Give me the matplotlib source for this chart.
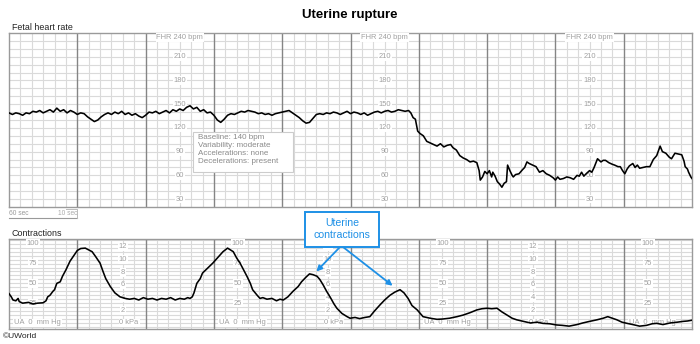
import numpy as np
import matplotlib
matplotlib.use("Agg")
import matplotlib.pyplot as plt
from matplotlib.patches import Rectangle

plt.rcParams['font.family'] = ['Liberation Sans', 'DejaVu Sans']

# ---------------- data ----------------
title = "Uterine rupture"
fhr_t = [0, 3, 6, 9, 12, 15, 18, 21, 24, 27, 30, 33, 36, 39, 42, 45, 48, 51, 54, 57,
         60, 63, 66, 69, 72, 75, 78, 81, 84, 87, 90, 93, 96, 99, 102, 105, 108, 111, 114, 117,
         120, 123, 126, 129, 132, 135, 138, 141, 144, 147, 150, 153, 156, 159, 162, 165, 168, 171, 174, 177,
         180, 183, 186, 189, 192, 195, 198, 201, 204, 207, 210, 213, 216, 219, 222, 225, 228, 231, 234, 237,
         240, 243, 246, 249, 252, 255, 258, 261, 264, 267, 270, 273, 276, 279, 282, 285, 288, 291, 294, 297,
         300, 303, 306, 309, 312, 315, 318, 321, 324, 327, 330, 333, 336, 339, 342, 345, 348, 351, 353, 355,
         357, 359, 361, 364, 367, 370, 373, 376, 379, 382, 385, 388, 390, 393, 396, 399, 402, 405, 408, 411,
         413, 414, 416, 418, 420, 422, 424, 425, 427, 429, 431, 433, 435, 437, 438, 440, 442, 443, 445, 448,
         451, 453, 455, 457, 460, 463, 466, 469, 472, 475, 478, 480, 482, 484, 487, 490, 493, 496, 499, 501,
         503, 505, 507, 510, 512, 514, 517, 520, 522, 524, 527, 530, 532, 535, 537, 539, 541, 543, 545, 548,
         550, 552, 554, 557, 560, 563, 566, 569, 572, 574, 577, 580, 582, 585, 588, 591, 593, 594, 596, 597,
         599, 600]
fhr_bpm = [139, 137, 139, 138, 136, 139, 138, 141, 140, 142, 139, 141, 143, 140, 145, 141, 143, 139, 142, 140,
           137, 139, 138, 134, 131, 128, 130, 134, 137, 139, 137, 140, 138, 141, 137, 139, 136, 138, 135, 133,
           136, 140, 139, 141, 138, 140, 142, 139, 143, 141, 144, 142, 146, 148, 144, 146, 141, 143, 139, 140,
           136, 130, 127, 131, 136, 138, 137, 139, 141, 140, 142, 141, 140, 138, 139, 137, 138, 136, 138, 139,
           140, 141, 142, 139, 136, 133, 129, 126, 127, 132, 137, 138, 137, 139, 138, 140, 139, 137, 139, 141,
           138, 140, 139, 137, 139, 136, 138, 140, 141, 139, 141, 142, 140, 141, 143, 142, 141, 142, 139, 133,
           131, 116, 113, 110, 103, 101, 99, 97, 100, 96, 98, 99, 95, 92, 85, 82, 80, 77, 78, 76,
           66, 54, 58, 65, 62, 66, 58, 64, 59, 52, 49, 45, 50, 52, 73, 66, 60, 58, 61, 62,
           67, 70, 77, 75, 73, 71, 64, 66, 62, 60, 57, 54, 58, 55, 56, 58, 57, 55, 60, 59,
           64, 59, 62, 66, 64, 70, 81, 77, 79, 79, 76, 74, 73, 71, 71, 66, 62, 68, 72, 75,
           70, 73, 69, 70, 71, 71, 80, 85, 97, 90, 88, 83, 81, 88, 87, 86, 78, 71, 68, 64,
           58, 56]

uc_t = [0, 2, 3.5, 6, 8, 9, 12, 17, 21, 25, 30, 32.5, 34, 36, 38.6, 40, 42, 45, 47, 50,
        53.6, 56, 60, 63, 67, 69, 73, 76, 80, 82.6, 85, 89, 93, 97.5, 102, 106, 110, 114, 118, 122,
        126, 130, 134, 138, 142, 146, 150, 154, 157, 159, 161, 162.5, 165, 168, 170, 175, 179, 183.6, 188, 192,
        197, 200, 203, 206.5, 209, 212, 214, 218, 220.5, 223, 226.6, 231, 235, 238, 241, 245, 249.5, 254, 257, 261,
        264, 267, 270.6, 273, 276, 279, 282, 285.5, 288, 292.5, 297, 299.6, 304, 308, 312.7, 317, 321, 326, 330, 334.7,
        339, 343.5, 347, 350.6, 354, 358.6, 363.7, 370, 376, 381, 387, 393.6, 399, 405, 411, 415.5, 420, 424, 428.7, 433,
        437.5, 442, 446, 452, 458, 464, 469, 475, 481, 486, 492, 499, 504, 510, 516.5, 522, 526, 530, 534, 538.5,
        543, 548, 554, 560, 565, 569, 574.5, 580.7, 587, 592, 596, 600]
uc_mmhg = [37, 33, 29, 28, 31, 27, 25, 26, 24, 25, 25.5, 28, 33, 35, 40, 42, 50, 52, 59, 67,
           78, 83, 91.5, 94, 94.5, 93, 90, 84, 75.5, 65, 56, 46, 38, 33, 31, 30, 31, 29, 32, 30,
           31, 29, 31, 30, 32, 29, 31, 30, 32, 31, 33, 38, 50, 56, 63, 70, 75.5, 83, 90, 94.5,
           90, 82, 75.5, 66, 59, 50, 42, 35, 31, 32, 30, 31, 28, 30, 29, 33, 40, 46, 52, 58,
           62, 61, 59, 55, 48, 40, 33, 24, 18.6, 12, 8, 6, 7, 5.5, 7, 8, 15, 23, 29, 35,
           39, 42, 38, 31, 22, 16.5, 8, 6, 4.6, 5, 6, 8, 10, 13, 16.5, 18, 18.6, 18, 18.6, 14,
           10, 6, 4, 2, 0, 1, -0.5, -1, -2.5, -3, -4, -2, 0, 2, 4, 6, 8, 6, 4, 1,
           -0.5, -2, -4, -3, -1, -0.5, -2, 0, 1, 2, 2.5, 3.5]

fhr_labels = [210, 180, 150, 120, 90, 60, 30]
fhr_label_t = [150, 330, 510]
uc_labels = [100, 75, 50, 25]
uc_label_t = [21, 201, 381, 561]
kpa_labels = [12, 10, 8, 6, 4, 2]
kpa_label_t = [100, 280, 460]
info_lines = ["Baseline: 140 bpm", "Variability: moderate",
              "Accelerations: none", "Decelerations: present"]
callout = "Uterine\ncontractions"
arrow_tips = [(270, 65), (337, 47)]

# ---------------- figure ----------------
W, H = 700, 344
fig = plt.figure(figsize=(W / 100, H / 100), dpi=100)

def fx(x):
    return x / W

def fy(y):
    return 1 - y / H

x0, x1 = 9, 692
ax_f = fig.add_axes([fx(x0), fy(207), fx(x1) - fx(x0), fy(33) - fy(207)])
ax_u = fig.add_axes([fx(x0), fy(329), fx(x1) - fx(x0), fy(239) - fy(329)])

minor_c = '#dadada'
major_c = '#858585'
lab_c = '#a0a0a0'

def grid(ax, hlines):
    for t in range(0, 601, 10):
        if t % 60 == 0:
            continue
        ax.axvline(t, color=minor_c, lw=0.8, zorder=1)
    for v in hlines:
        ax.axhline(v, color=minor_c, lw=0.8, zorder=1)
    for t in range(60, 600, 60):
        ax.axvline(t, color=major_c, lw=1.0, zorder=1.5)
    ax.set_xlim(0, 600)
    ax.set_xticks([])
    ax.set_yticks([])
    for s in ax.spines.values():
        s.set_color('#9a9a9a')
        s.set_linewidth(1.0)

ax_f.set_ylim(20, 240)
grid(ax_f, range(30, 240, 10))
ax_u.set_ylim(-7.6, 106)
grid(ax_u, range(-5, 106, 5))

lbl_bbox = dict(facecolor='white', edgecolor='none', pad=0.6)
for t in fhr_label_t:
    ax_f.text(t, 234, "FHR 240 bpm", ha='center', va='center', fontsize=5.4,
              color=lab_c, bbox=lbl_bbox, zorder=3)
    for v in fhr_labels:
        ax_f.text(t, v, str(v), ha='center', va='center', fontsize=5.4,
                  color=lab_c, bbox=lbl_bbox, zorder=3)

for t in uc_label_t:
    for v in uc_labels:
        ax_u.text(t, v, str(v), ha='center', va='center', fontsize=5.4,
                  color=lab_c, bbox=lbl_bbox, zorder=3)
    ax_u.text(t + 4, 0, "UA  0  mm Hg", ha='center', va='center', fontsize=5.4,
              color=lab_c, bbox=lbl_bbox, zorder=3)
for t in kpa_label_t:
    for v in kpa_labels:
        ax_u.text(t, v * 8, str(v), ha='center', va='center', fontsize=5.4,
                  color=lab_c, bbox=lbl_bbox, zorder=3)
    ax_u.text(t + 5.5, 0, "0 kPa", ha='center', va='center', fontsize=5.4,
              color=lab_c, bbox=lbl_bbox, zorder=3)

ax_f.plot(fhr_t, fhr_bpm, color='black', lw=1.15, zorder=4)
ax_u.plot(uc_t, uc_mmhg, color='black', lw=1.15, zorder=4)

# info box
fig.patches.append(Rectangle((fx(193), fy(172)), fx(293) - fx(193), fy(132) - fy(172),
                             transform=fig.transFigure, facecolor='white',
                             edgecolor='#cccccc', lw=0.8, zorder=5))
fig.text(fx(198), fy(134.5), "\n".join(info_lines), ha='left', va='top',
         fontsize=5.8, color='#8a8a8a', linespacing=1.18, zorder=6)

# titles
fig.text(0.5, fy(15), title, ha='center', va='center', fontsize=9.5,
         fontweight='bold', color='black')
fig.text(fx(12), fy(28), "Fetal heart rate", ha='left', va='center', fontsize=6.4,
         color='#222222')
fig.text(fx(12), fy(233), "Contractions", ha='left', va='center', fontsize=6.4,
         color='#222222')
fig.text(fx(3), fy(337), "\u00a9UWorld", ha='left', va='center', fontsize=6,
         color='#222222')

# scale bar
fig.text(fx(9), fy(213.5), "60 sec", ha='left', va='center', fontsize=4.8, color='#999999')
fig.text(fx(77), fy(213.5), "10 sec", ha='right', va='center', fontsize=4.8, color='#aaaaaa')
fig.add_artist(plt.Line2D([fx(9), fx(77)], [fy(217.5), fy(217.5)], color='#999999', lw=0.8))
fig.add_artist(plt.Line2D([fx(66), fx(77), fx(77)], [fy(209), fy(209), fy(217.5)],
                          color='#bbbbbb', lw=0.7))

# callout
blue = '#1e90e6'
fig.patches.append(Rectangle((fx(305), fy(246.5)), fx(379) - fx(305), fy(212) - fy(246.5),
                             transform=fig.transFigure, facecolor='white',
                             edgecolor=blue, lw=1.4, zorder=7))
fig.text(fx(342), fy(229.5), callout, ha='center', va='center', fontsize=7.6,
         color=blue, linespacing=1.25, zorder=8)
starts = [(fx(340), fy(247)), (fx(343), fy(247))]
for (tx, ty), (sx, sy) in zip(arrow_tips, starts):
    ax_u.annotate("", xy=(tx, ty), xycoords='data', xytext=(sx, sy),
                  textcoords='figure fraction',
                  arrowprops=dict(arrowstyle='-|>', color=blue, lw=1.3,
                                  mutation_scale=8, shrinkA=0, shrinkB=0),
                  zorder=8, annotation_clip=False)

fig.savefig("out.png", dpi=100)
